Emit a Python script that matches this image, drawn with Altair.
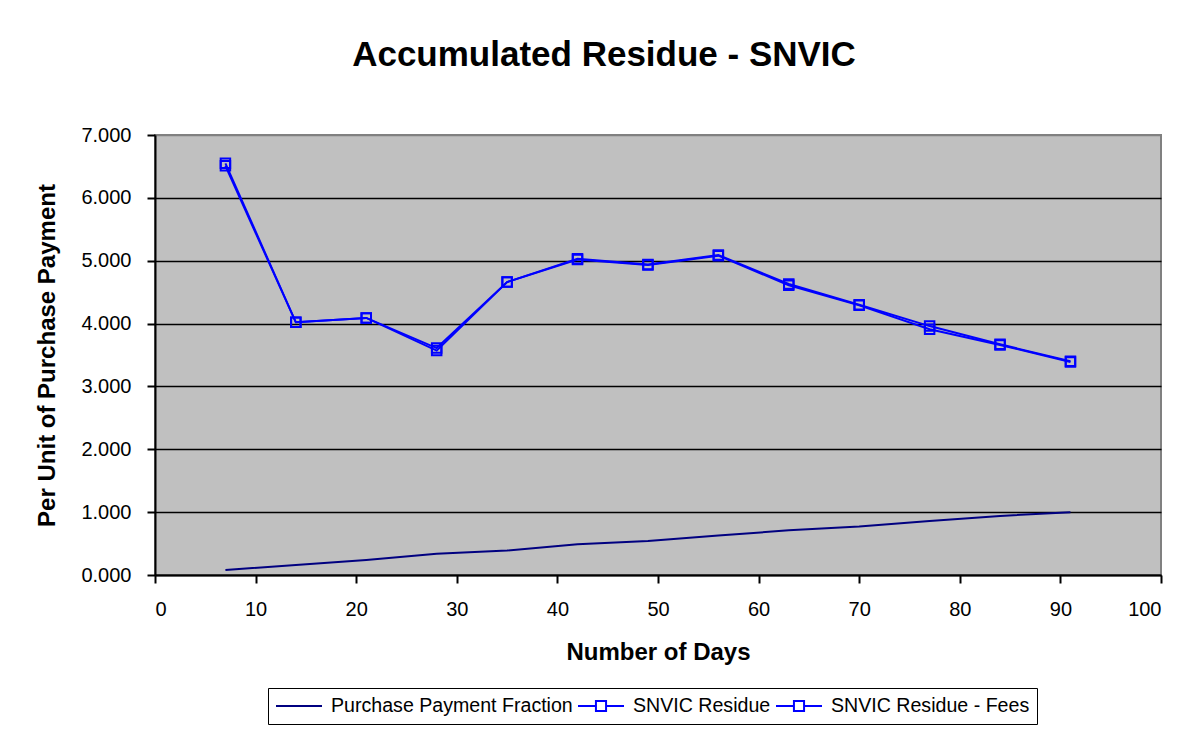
import altair as alt
import pandas as pd

days = [7, 14, 21, 28, 35, 42, 49, 56, 63, 70, 77, 84, 91]
fraction = [0.08, 0.16, 0.24, 0.34, 0.39, 0.49, 0.54, 0.63, 0.71, 0.77, 0.86, 0.94, 1.00]
residue = [6.55, 4.02, 4.09, 3.61, 4.66, 5.03, 4.94, 5.09, 4.63, 4.30, 3.96, 3.67, 3.40]
fees = [6.51, 4.02, 4.09, 3.57, 4.66, 5.02, 4.93, 5.08, 4.61, 4.29, 3.91, 3.66, 3.39]

series_names = ["Purchase Payment Fraction", "SNVIC Residue", "SNVIC Residue - Fees"]
series_colors = ["#000080", "#0000FF", "#0000FF"]
sq = "M-1,0H-0.22M0.22,0H1M-0.22,-0.22H0.22V0.22H-0.22Z"
legend_paths = ["M-1,0H1", sq, sq]
x_ticks = list(range(0, 101, 10))
y_ticks = [0, 1, 2, 3, 4, 5, 6, 7]

rows = []
for name, vals in zip(series_names, [fraction, residue, fees]):
    for d, v in zip(days, vals):
        rows.append({"days": d, "value": v, "series": name})
df = pd.DataFrame(rows)

FONT = "Liberation Sans"

x = alt.X("days:Q", scale=alt.Scale(domain=[0, 100], nice=False),
          axis=alt.Axis(values=x_ticks, title="Number of Days", grid=False,
                        labelPadding=16, titlePadding=21))
y = alt.Y("value:Q", scale=alt.Scale(domain=[0, 7], nice=False),
          axis=alt.Axis(values=y_ticks, format=".3f", title="Per Unit of Purchase Payment",
                        grid=True, labelPadding=16, titlePadding=21,
                        gridColor=alt.condition(alt.datum.value == 7, alt.value("#808080"), alt.value("black"))))

base = alt.Chart(df)

frac_line = base.transform_filter(alt.datum.series == series_names[0]).mark_line(
    color="#000080", strokeWidth=2).encode(x=x, y=y)

res_line = base.transform_filter(alt.datum.series == series_names[1]).mark_line(
    color="#0000FF", strokeWidth=2,
    point=alt.OverlayMarkDef(shape="square", filled=False, size=90, strokeWidth=2, color="#0000FF", opacity=1)
).encode(x=x, y=y)

fees_line = base.transform_filter(alt.datum.series == series_names[2]).mark_line(
    color="#0000FF", strokeWidth=2,
    point=alt.OverlayMarkDef(shape="square", filled=False, size=90, strokeWidth=2, color="#0000FF", opacity=1)
).encode(x=x, y=y)

leg = alt.Legend(title=None, orient="none", legendX=113, legendY=553, direction="horizontal",
                 strokeColor="black", fillColor="white", padding=7, labelFont=FONT,
                 labelFontSize=19.6, labelColor="black", clipHeight=22,
                 symbolSize=2116, symbolStrokeWidth=2, symbolOpacity=1, symbolFillColor="transparent",
                 labelLimit=400, columnPadding=4, labelOffset=8, cornerRadius=0)

legend_layer = base.mark_point(opacity=0, filled=False).encode(
    x=x, y=y,
    color=alt.Color("series:N", scale=alt.Scale(domain=series_names, range=series_colors), legend=leg),
    shape=alt.Shape("series:N", scale=alt.Scale(domain=series_names, range=legend_paths), legend=leg),
)

chart = alt.layer(frac_line, res_line, fees_line, legend_layer).properties(
    width=1006, height=440,
    autosize=alt.AutoSizeParams(type="none"),
    padding={"left": 147, "top": 127, "right": 28, "bottom": 150},
    title=alt.Title("Accumulated Residue - SNVIC", dx=-54, offset=52, anchor="middle"),
).configure_view(
    fill="#C0C0C0", stroke="#808080", strokeWidth=2
).configure_axis(
    domainColor="black", tickColor="black", labelFont=FONT, titleFont=FONT,
    labelFontSize=20, titleFontSize=24, labelColor="black", titleColor="black",
    titleFontWeight="bold", tickSize=8, domainWidth=2, tickWidth=2,
    gridWidth=1.5, gridOpacity=1
).configure_title(
    font=FONT, fontSize=35, fontWeight="bold", color="black"
)

chart.save("out.html", embed_options={"renderer": "svg", "actions": False})
